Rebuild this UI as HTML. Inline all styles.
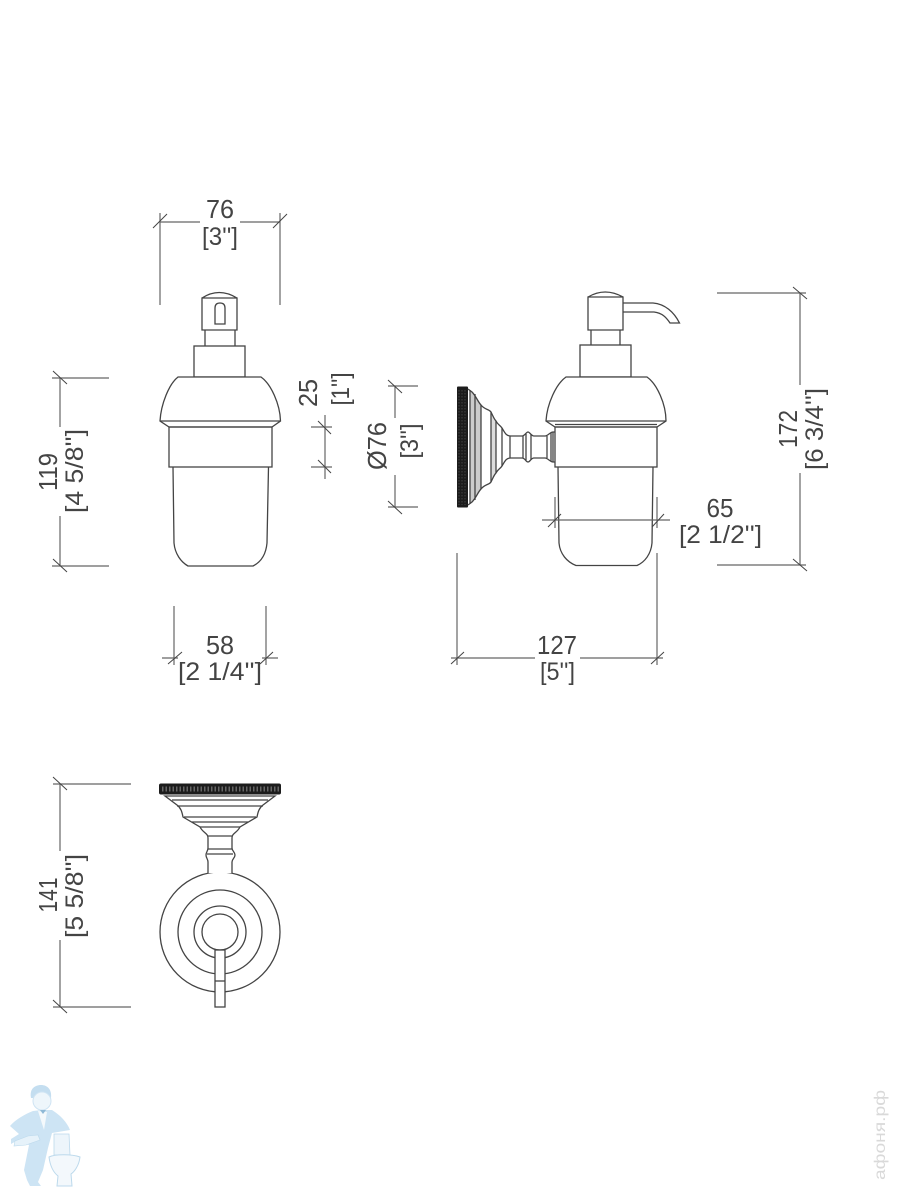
<!DOCTYPE html>
<html><head><meta charset="utf-8"><title>Dimension drawing</title>
<style>html,body{margin:0;padding:0;background:#fff}svg{display:block}
text{font-family:"Liberation Sans",sans-serif;fill:#444;text-anchor:middle}
.n{font-size:26px}.b{font-size:25px}
.o{fill:none;stroke:#444;stroke-width:1.3}
.w{fill:#fff;stroke:#444;stroke-width:1.3}
.d{fill:none;stroke:#666;stroke-width:1.2}
.t{fill:none;stroke:#444;stroke-width:1}
</style></head><body>
<svg width="900" height="1200" viewBox="0 0 900 1200" xmlns="http://www.w3.org/2000/svg">
<rect width="900" height="1200" fill="#fff"/>

<!-- front view -->
<g>
<path class="o" d="M202 298 Q219 287 237 298 M202 298H237V330H202Z"/>
<path class="o" d="M215 324V308Q215 303 220 303Q225 303 225 308V324Z"/>
<path class="o" d="M205 330V346M235 330V346"/>
<rect class="o" x="194" y="346" width="51" height="31"/>
<path class="w" d="M178 377H261C271 384 280 404 280.500 421L272 427H169L160 421C161 404 169 384 178 377Z"/>
<path class="o" d="M160 421H280.500"/>
<rect class="o" x="169" y="427" width="103" height="40"/>
<path class="o" d="M173 467L174 543C175 554 181 562 188 566H253C261 562 266 554 267 543L268.500 467"/>
</g>

<!-- side view -->
<g>
<path class="o" d="M588 297Q605 287 623 297M588 297H623V330H588Z"/>
<path class="o" d="M623 303H653C665 304 674 312 679.500 323H670C666 317 662 313 654 312H623"/>
<path class="o" d="M591 330V345M620 330V345"/>
<rect class="o" x="580" y="345" width="51" height="32"/>
<path class="w" d="M566 377H647C657 384 666 404 666 421L657 427H555L546 421C547 404 556 384 566 377Z"/>
<path class="o" d="M546 421H666M555 424.500H657"/>
<rect class="o" x="555" y="427" width="102" height="40"/>
<path class="o" d="M558 467L559 543C560 554 567 562 576 565.500H637C645 562 651 554 652 543L653 467"/>
</g>

<!-- wall mount side -->
<g>
<path d="M470 390L472 392C476 396 478 402 481 405V489C478 492 476 498 472 502L470 504Z" fill="#ccc"/>
<path d="M491 412L496 421V473L491 482Z" fill="#ddd"/>
<rect x="457" y="386.500" width="11" height="121" rx="1" fill="#1c1c1c"/>
<path d="M459 390V505M462 390V505M465 390V505" stroke="#555" stroke-width=".7" stroke-dasharray="1.500 1.500" fill="none"/>
<path class="o" d="M468 389L472 392C476 396 478 402 481 405C485 410 489 409 491 412C493 416 494 419 496 421C498 425 500 425 502 428C505 433 506 436 511 436H522C525 436 526 432 528 432C530 432 531 436 534 436H545C548 436 550 432 553 432H555M468 505L472 502C476 498 478 492 481 489C485 484 489 485 491 482C493 478 494 475 496 473C498 469 500 469 502 466C505 461 506 458 511 458H522C525 458 526 462 528 462C530 462 531 458 534 458H545C548 458 550 462 553 462H555"/>
<path class="o" d="M470 390V504M475 394V500M481 405V489M491 412V482M496 421V473M502 428V466M510 436V458M523 436V458M526 434V460M531 434V460M547 436V458M551 433V461M553 432V462"/>
</g>

<!-- top view -->
<g>
<circle class="o" cx="220" cy="932" r="60"/>
<circle class="o" cx="220" cy="932" r="42"/>
<circle class="o" cx="220" cy="932" r="26"/>
<circle class="w" cx="220" cy="932" r="18"/>
<rect class="w" x="215" y="950" width="10" height="57"/>
<path class="o" d="M215 981H225"/>
<path class="w" d="M208 873V862C208 859 206 858 206 855C206 852 208 851 208 848V838C208 833 203 833 200 827L183 817C182 812 181 808 177 805L165 796H275L263 805C259 808 258 812 257 817L240 827C237 833 232 833 232 838V848C232 851 235 852 235 855C235 858 232 859 232 862V873"/>
<path class="o" d="M172 800H268M177 806H263M184 817H256M192 822H248M200 827H240M208 836H232M208 849H232M207 854H233"/>
<rect x="159" y="783.500" width="122" height="11" rx="2" fill="#1c1c1c"/>
<path d="M162 789H279" stroke="#666" stroke-width="5" stroke-dasharray="1.500 2" fill="none"/>
</g>

<!-- dimension: 76 top -->
<path class="d" d="M160 213V305M280 213V305M160 222H200M240 222H280"/>
<path class="t" d="M153 228L167 214M273 228L287 214"/>
<text class="n" x="220" y="218" textLength="28" lengthAdjust="spacingAndGlyphs">76</text>
<text class="b" x="220" y="245" textLength="36" lengthAdjust="spacingAndGlyphs">[3'']</text>

<!-- 119 -->
<path class="d" d="M52 378H109M52 566H109M60 378V427M60 516V566"/>
<path class="t" d="M53 371L67 384M53 559L67 572"/>
<text class="n" transform="translate(57 472) rotate(-90)" textLength="38" lengthAdjust="spacingAndGlyphs">119</text>
<text class="b" transform="translate(83 471) rotate(-90)" textLength="84" lengthAdjust="spacingAndGlyphs">[4 5/8'']</text>

<!-- 25 -->
<path class="d" d="M325 415V479M311 427H332M311 467H332"/>
<path class="t" d="M318 421L331 434M318 460L331 473"/>
<text class="n" transform="translate(317 393) rotate(-90)" textLength="28" lengthAdjust="spacingAndGlyphs">25</text>
<text class="b" transform="translate(349 389) rotate(-90)" textLength="33" lengthAdjust="spacingAndGlyphs">[1'']</text>

<!-- Ø76 -->
<path class="d" d="M395 386V418M395 475V507M388 386H418M388 507H418"/>
<path class="t" d="M388 380L402 393M388 501L402 514"/>
<text class="n" transform="translate(386 446) rotate(-90)" textLength="48" lengthAdjust="spacingAndGlyphs">Ø76</text>
<text class="b" transform="translate(418 441) rotate(-90)" textLength="35" lengthAdjust="spacingAndGlyphs">[3'']</text>

<!-- 58 -->
<path class="d" d="M174 606V665M266 606V665M162 658H178M262 658H278"/>
<path class="t" d="M168 664L182 652M260 664L273 652"/>
<text class="n" x="220" y="654" textLength="28" lengthAdjust="spacingAndGlyphs">58</text>
<text class="b" x="220" y="680" textLength="84" lengthAdjust="spacingAndGlyphs">[2 1/4'']</text>

<!-- 141 -->
<path class="d" d="M53 784H131M53 1007H131M60 784V851M60 940V1007"/>
<path class="t" d="M53 777L67 790M53 1000L67 1013"/>
<text class="n" transform="translate(57 895) rotate(-90)" textLength="35" lengthAdjust="spacingAndGlyphs">141</text>
<text class="b" transform="translate(83 896) rotate(-90)" textLength="84" lengthAdjust="spacingAndGlyphs">[5 5/8'']</text>

<!-- 172 -->
<path class="d" d="M717 293H806M717 565H806M800 293V385M800 473V565"/>
<path class="t" d="M793 287L807 299M793 559L807 571"/>
<text class="n" transform="translate(797 429) rotate(-90)" textLength="38" lengthAdjust="spacingAndGlyphs">172</text>
<text class="b" transform="translate(823 429) rotate(-90)" textLength="82" lengthAdjust="spacingAndGlyphs">[6 3/4'']</text>

<!-- 65 -->
<path class="d" d="M555 497V528M657 497V528M542 520H670"/>
<path class="t" d="M548 527L561 514M652 527L664 514"/>
<text class="n" x="720" y="517" textLength="27" lengthAdjust="spacingAndGlyphs">65</text>
<text class="b" x="720.500" y="543" textLength="83" lengthAdjust="spacingAndGlyphs">[2 1/2'']</text>

<!-- 127 -->
<path class="d" d="M457 553V665M657 553V665M451 658H535M580 658H663"/>
<path class="t" d="M451 664L464 652M651 664L664 652"/>
<text class="n" x="557" y="654" textLength="40" lengthAdjust="spacingAndGlyphs">127</text>
<text class="b" x="557.500" y="680" textLength="35" lengthAdjust="spacingAndGlyphs">[5'']</text>

<!-- mascot -->
<g>
<path d="M31 1098C29 1088 36 1085 41 1085C47 1085 52 1089 51 1098Z" fill="#c4def0"/>
<ellipse cx="42" cy="1101" rx="9" ry="9" fill="#eef6fb" stroke="#cfe4f3" stroke-width="1"/>
<path d="M33 1111L42 1110L52 1110C60 1115 67 1122 70 1130L52 1133L48 1148L43 1170L38 1182L41 1186L30 1186L27 1180L24 1170L28 1150L29 1145L18 1140L11 1144L11 1139L19 1134L10 1126C15 1120 25 1114 33 1111Z" fill="#cde4f4"/>
<path d="M38 1111L44 1130L47 1112Z" fill="#f4f9fc"/>
<path d="M40 1110h6l-3 4z" fill="#8fb9d6"/>
<path d="M15 1141L28 1136L38 1135L40 1140L26 1145L14 1146Z" fill="#e6f2fa" stroke="#bcd9ec" stroke-width=".6"/>
<path d="M54 1134H69L70 1155H54Z" fill="#edf5fb" stroke="#bcd9ec" stroke-width=".8"/>
<path d="M49 1157C55 1154 72 1154 80 1157C79 1166 74 1172 71 1174L72 1186H57L58 1176C53 1172 50 1165 49 1157Z" fill="#f3f8fc" stroke="#bcd9ec" stroke-width="1"/>
</g>

<!-- watermark -->
<text transform="translate(885 1135) rotate(-90)" style="font-size:16px;fill:#d9d9d9" textLength="90" lengthAdjust="spacingAndGlyphs">афоня.рф</text>
</svg>
</body></html>
